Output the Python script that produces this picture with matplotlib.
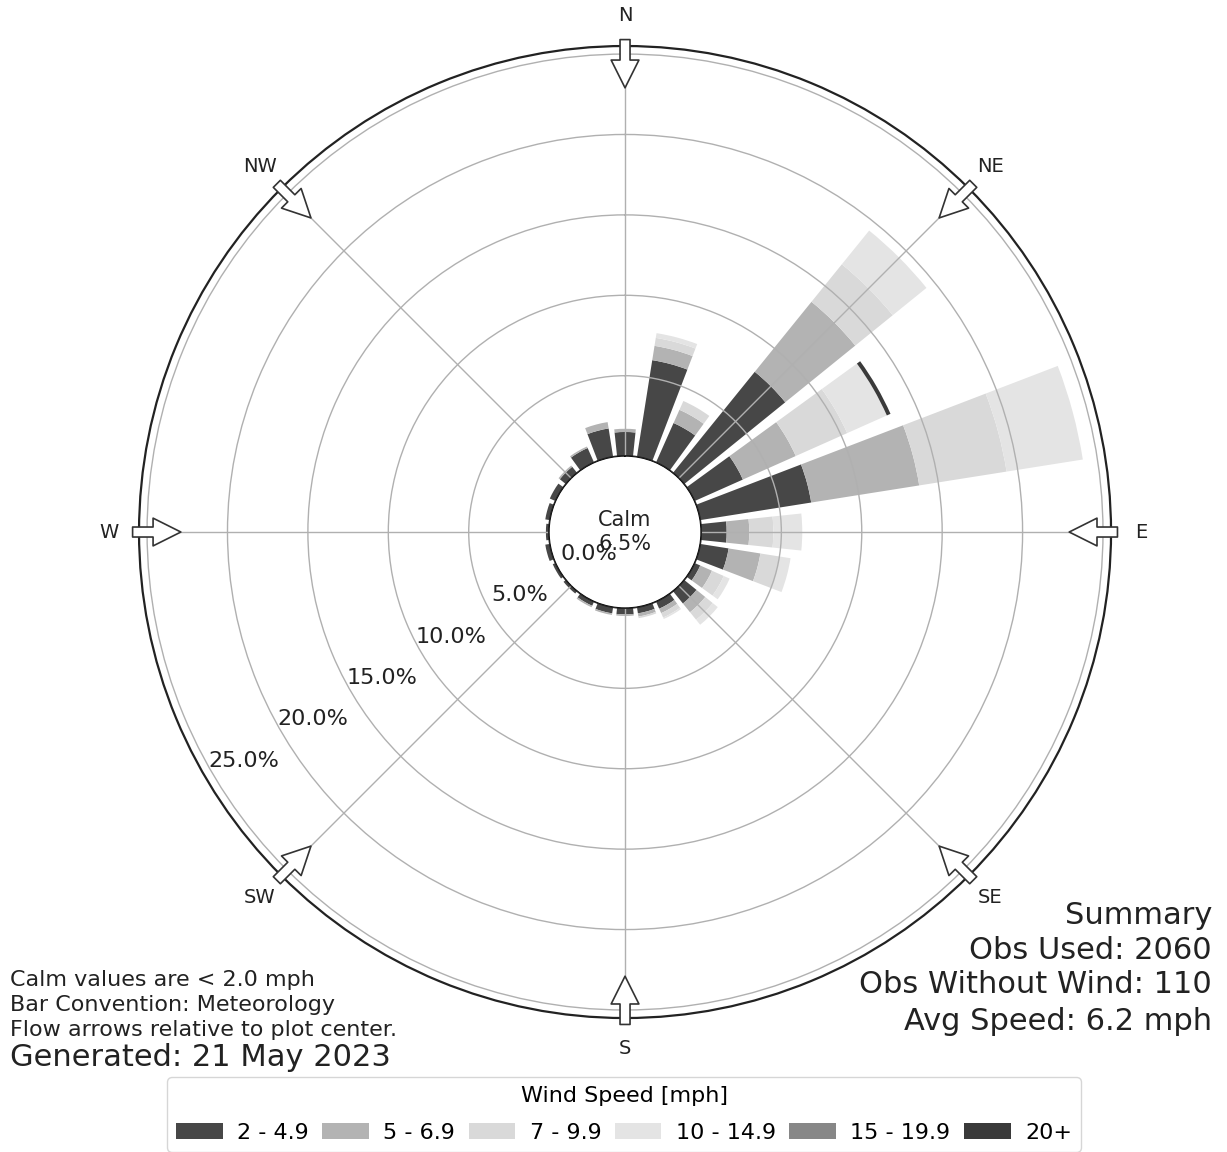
import numpy as np
import matplotlib
matplotlib.use("Agg")
import matplotlib.pyplot as plt
from matplotlib.patches import Patch

# compass directions of the bars (deg, clockwise from north)
directions = np.arange(0, 360, 15)
speed_labels = ["2 - 4.9", "5 - 6.9", "7 - 9.9", "10 - 14.9", "15 - 19.9", "20+"]
speed_colors = ["#474747", "#b3b3b3", "#d9d9d9", "#e4e4e4", "#878787", "#3a3a3a"]

# frequency [%] per direction for each speed bin
freq_2_5 = [1.5, 6.1, 2.7, 8.1, 3.3, 7.0, 1.6, 1.8, 0.4, 1.0, 0.5, 0.4,
            0.4, 0.4, 0.3, 0.2, 0.2, 0.3, 0.2, 0.3, 0.4, 0.5, 1.0, 1.8]
freq_5_7 = [0.2, 0.9, 0.9, 5.6, 3.6, 6.8, 1.4, 2.0, 0.8, 0.7, 0.3, 0.2,
            0.1, 0.1, 0.1, 0.0, 0.0, 0.0, 0.0, 0.0, 0.0, 0.1, 0.1, 0.4]
freq_7_10 = [0.0, 0.5, 0.6, 3.0, 3.5, 5.5, 1.5, 1.2, 0.8, 0.6, 0.3, 0.1,
             0.0, 0.0, 0.0, 0.0, 0.0, 0.0, 0.0, 0.0, 0.0, 0.0, 0.0, 0.0]
freq_10_15 = [0.0, 0.3, 0.0, 2.7, 2.7, 4.8, 1.8, 0.7, 0.4, 0.4, 0.1, 0.0,
              0.0, 0.0, 0.0, 0.0, 0.0, 0.0, 0.0, 0.0, 0.0, 0.0, 0.0, 0.0]
freq_15_20 = [0.0] * 24
freq_20p = [0.0, 0.0, 0.0, 0.0, 0.25, 0.0, 0.0, 0.0, 0.0, 0.0, 0.0, 0.0,
            0.0, 0.0, 0.0, 0.0, 0.0, 0.0, 0.0, 0.0, 0.0, 0.0, 0.0, 0.0]
speed_freqs = [freq_2_5, freq_5_7, freq_7_10, freq_10_15, freq_15_20, freq_20p]

calm_pct = 6.5
rticks = [0, 5, 10, 15, 20, 25]
cardinals = ["N", "NE", "E", "SE", "S", "SW", "W", "NW"]
summary_lines = ["Summary", "Obs Used: 2060", "Obs Without Wind: 110",
                 "Avg Speed: 6.2 mph"]
notes = ["Calm values are < 2.0 mph", "Bar Convention: Meteorology",
         "Flow arrows relative to plot center."]

fig = plt.figure(figsize=(12.27, 11.52), dpi=100)
ax = fig.add_axes([0.1133, 0.1163, 0.7922, 0.84375], projection="polar")
ax.set_theta_zero_location("N")
ax.set_theta_direction(-1)
ax.set_rorigin(-4.72)
ax.set_ylim(0, 25.5)
ax.set_axisbelow(False)

theta = np.deg2rad(directions)
width = np.deg2rad(12)
bottom = np.zeros(len(directions))
for vals, color in zip(speed_freqs, speed_colors):
    vals = np.asarray(vals)
    ax.bar(theta, vals, width=width, bottom=bottom, color=color,
           edgecolor="none", zorder=1)
    bottom += vals

ax.set_xticks(np.deg2rad(np.arange(0, 360, 45)))
ax.set_xticklabels([])
ax.set_yticks(rticks[1:])
ax.set_yticklabels([])
ax.grid(True, color="#b0b0b0", lw=1.0)
ax.spines["polar"].set_linewidth(1.6)
ax.spines["polar"].set_color("#222222")

# calm circle at the inner edge
circ = np.linspace(0, 2 * np.pi, 400)
ax.plot(circ, np.zeros_like(circ), color="#222222", lw=1.6, zorder=4)

# radius labels
for val in rticks:
    ax.text(np.deg2rad(239), val - 2.1, f"{val:.1f}%", ha="center",
            va="center", fontsize=16, color="#222222", zorder=6)

# cardinal labels and flow arrows
for i, lab in enumerate(cardinals):
    ang = np.deg2rad(i * 45)
    ax.text(ang, 27.4, lab, ha="center", va="center", fontsize=14,
            color="#222222", clip_on=False)
    ax.annotate("", xy=(ang, 22.9), xytext=(ang, 25.9),
                arrowprops=dict(arrowstyle="simple,head_length=1.0,head_width=1.0,tail_width=0.36",
                                facecolor="white", edgecolor="#333333", lw=1.2,
                                shrinkA=0, shrinkB=0, mutation_scale=20),
                annotation_clip=False, zorder=7)

ax.text(0.5, 0.5, f"Calm\n{calm_pct}%", transform=ax.transAxes, ha="center",
        va="center", fontsize=15, color="#222222", zorder=6)

# left notes
for y, line in zip([0.149, 0.1276, 0.1059], notes):
    fig.text(0.008, y, line, ha="left", va="center", fontsize=16, color="#222222")
fig.text(0.008, 0.0816, "Generated: 21 May 2023", ha="left", va="center",
         fontsize=22, color="#222222")

# summary block
for y, line in zip([0.2057, 0.1753, 0.145, 0.1137], summary_lines):
    fig.text(0.9878, y, line, ha="right", va="center", fontsize=22, color="#222222")

handles = [Patch(facecolor=c, edgecolor="none") for c in speed_colors]
fig.legend(handles, speed_labels, loc="upper center", bbox_to_anchor=(0.5086, 0.0746),
           ncol=6, title="Wind Speed [mph]", fontsize=16, title_fontsize=16,
           columnspacing=0.6, handletextpad=0.65, handlelength=2.1,
           labelspacing=0.75, frameon=True, edgecolor="#cccccc")

fig.savefig("out.png", dpi=100, facecolor="white")
